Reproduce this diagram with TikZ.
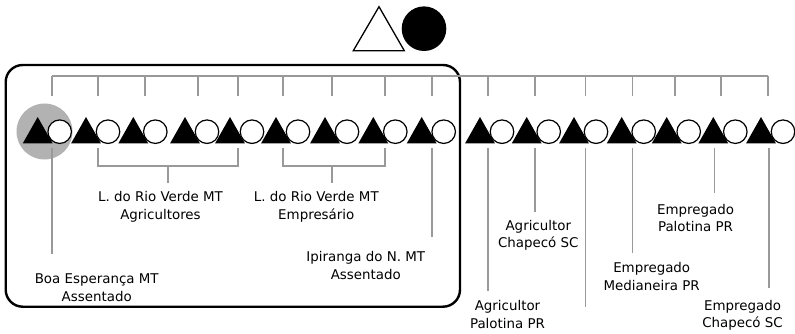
\documentclass[tikz,border=0pt]{standalone}
\usepackage{fontspec}
\setmainfont{DejaVu Sans}

\begin{document}
\begin{tikzpicture}[x=1pt,y=-1pt,
    branch/.style={draw=black!40,line width=1.8pt},
    pairdot/.style={circle,draw=black,fill=white,line width=1.2pt,minimum size=23.5pt,inner sep=0pt},
    place/.style={font=\fontsize{13.4}{17.8}\selectfont,align=center,inner sep=0pt}]
        \useasboundingbox (0,0) rectangle (795,334);
        % legend
        \draw[line width=1.3pt] (379,6.7)--(404.3,50.7)--(353.3,50.7)--cycle;
        \fill (424,28.7) circle (22.3);
        % group box
        \draw[line width=2.4pt,rounded corners=17pt] (5.7,65) rectangle (460,306.7);
        \fill[black!30] (44.5,131.5) circle (28);
        % pairs: triangle apex x / stem x
        \foreach \i/\a/\s in {1/37.7/51.7,2/86/98.3,3/133.3/145,4/185/198.3,
            5/230/238.3,6/276/283.3,7/325/331.7,8/373.3/385,9/421.7/431.7,
            10/480/488,11/526.7/535,12/574/585.5,13/621.7/632.5,14/666.7/675,
            15/713.3/714.5,16/761/769}
        {
            \fill (\a,117)--(\a+15,143.5)--(\a-15,143.5)--cycle;
            \node[pairdot] (c\i) at (\a+22,131.7) {};
            \coordinate (t\i) at (\s,76);
            \coordinate (u\i) at (\s,95.7);
            \coordinate (d\i) at (\s,148);
        }
        \coordinate (t15) at (720.7,76);
        \coordinate (u15) at (720.7,95.7);
        \coordinate (t16) at (767.7,76);
        \coordinate (u16) at (767.7,95.7);
        % top tree
        \draw[branch] (t1)--(t16);
        \foreach \i in {1,...,16}
        {
            \draw[branch] (t\i)--(u\i);
        }
        % stems below
        \coordinate (agr) at (167.7,165.7);
        \coordinate (emp) at (332.3,165.7);
        \draw[branch] (d2)--(d2|-agr)--(d5|-agr)--(d5);
        \draw[branch] (agr)--(167.7,183);
        \draw[branch] (d6)--(d6|-emp)--(d8|-emp)--(d8);
        \draw[branch] (emp)--(332.3,183);
        \draw[branch] (d1)--(51.7,254);
        \draw[branch] (d9)--(431.7,236.7);
        \draw[branch] (d10)--(488,290.7);
        \draw[branch] (d11)--(535,212.3);
        \draw[branch] (d12)--(585.5,306.7);
        \draw[branch] (d13)--(632.5,252.7);
        \draw[branch] (d15)--(714.5,193.3);
        \draw[branch] (d16)--(769,288.3);
        % places
        \node[place] (boa) at (96.7,287.5) {Boa Esperança MT\\Assentado};
        \node[place] (lrvA) at (160.5,206.7) {L. do Rio Verde MT\\Agricultores};
        \node[place] (lrvE) at (316.3,206.7) {L. do Rio Verde MT\\Empresário};
        \node[place] (ipi) at (365.8,265.8) {Ipiranga do N. MT\\Assentado};
        \node[place] (agrPal) at (507.5,314.8) {Agricultor\\Palotina PR};
        \node[place] (agrCha) at (538.3,235.3) {Agricultor\\Chapecó SC};
        \node[place] (empMed) at (651.7,276.7) {Empregado\\Medianeira PR};
        \node[place] (empPal) at (695.5,218) {Empregado\\Palotina PR};
        \node[place] (empCha) at (742.5,315.3) {Empregado\\Chapecó SC};
    \end{tikzpicture}
\end{document}
